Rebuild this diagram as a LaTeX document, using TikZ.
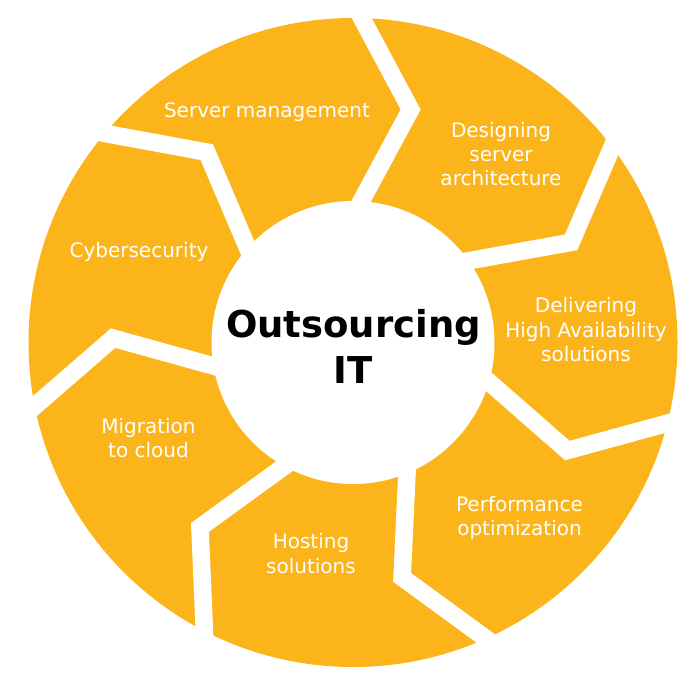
\documentclass[tikz,border=0pt]{standalone}
\usepackage{fontspec}
\setmainfont{DejaVu Sans}
\usetikzlibrary{calc}
\definecolor{ringyellow}{RGB}{251,180,26}

\tikzset{
  segtext/.style={text=white, font=\fontsize{20}{24.3}\selectfont, align=center, inner sep=0pt},
  coretext/.style={text=black, font=\fontsize{37}{46.5}\selectfont\bfseries, align=center, inner sep=0pt},
  gapline/.style={white, line width=17.6pt, line join=miter}
}

\begin{document}
\begin{tikzpicture}[x=1pt,y=1pt]
	\useasboundingbox (-353,-343.5) rectangle (347,342.5);

	\fill[ringyellow] (0,0) circle (324.5);
	% white chevron gaps between the seven segments
	\foreach \k in {0,...,6}{
		\pgfmathsetmacro\ang{88.45-51.4286*\k}
		\coordinate (o\k) at (\ang:324.5);
		\coordinate (p\k) at (\ang-12.35:240);
		\coordinate (q\k) at (\ang-1.75:141.5);
		\draw[gapline] ($(p\k)!1.15!(o\k)$) -- (p\k) -- ($(p\k)!1.2!(q\k)$);
	}
	\fill[white] (0,0) circle (141.5);

	\node[coretext] (core) at (0.5,-4) {Outsourcing\\IT};

	\node[segtext] (server) at (-86,230) {Server management};
	\node[segtext] (design) at (148,188.5) {Designing\\server\\architecture};
	\node[segtext] (avail) at (233,12.8) {Delivering\\High Availability\\solutions};
	\node[segtext] (perf) at (166.5,-175.2) {Performance\\optimization};
	\node[segtext] (host) at (-42,-211) {Hosting\\solutions};
	\node[segtext] (cloud) at (-204.5,-95.3) {Migration\\to cloud};
	\node[segtext] (cyber) at (-214,90.4) {Cybersecurity};
\end{tikzpicture}
\end{document}
